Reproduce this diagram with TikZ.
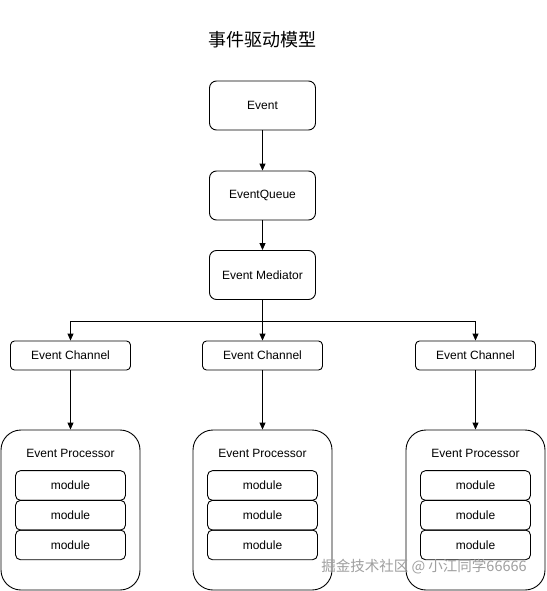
\documentclass[tikz,border=0pt]{standalone}
\usepackage{fontspec}
\setmainfont{Liberation Sans}
\newfontfamily\cjk{Noto Sans CJK SC}
\usetikzlibrary{arrows.meta}

\tikzset{
  box/.style={draw, rounded corners=7pt, inner sep=0pt, minimum width=106pt, minimum height=49pt, font=\fontsize{12}{14}\selectfont},
  chan/.style={draw, rounded corners=4pt, inner sep=0pt, minimum width=120pt, minimum height=29pt, font=\fontsize{12}{14}\selectfont},
  proc/.style={draw, rounded corners=20pt, inner sep=0pt, minimum width=139pt, minimum height=160pt},
  mod/.style={draw, rounded corners=5pt, inner sep=0pt, minimum width=110pt, minimum height=29.7pt, font=\fontsize{12}{14}\selectfont},
  arr/.style={-{Triangle[length=7pt,width=6pt]}}
}

\begin{document}
\begin{tikzpicture}[x=1pt,y=-1pt,line width=0.9pt]
    \useasboundingbox (0,0) rectangle (546,591);

    \node[font=\cjk\fontsize{18}{20}\selectfont] (title) at (262,40) {事件驱动模型};

    \node[box] (event) at (262.5,105.5) {Event};
    \node[box] (queue) at (262.5,195.5) {EventQueue};
    \node[box] (mediator) at (262.5,275) {Event Mediator};
    \coordinate (split) at (262.5,321);

    \node[chan] (chanA) at (70.5,355.5) {Event Channel};
    \node[chan] (chanB) at (262.5,355.5) {Event Channel};
    \node[chan] (chanC) at (475.5,355.5) {Event Channel};

    \node[proc] (procA) at (70.5,510) {};
    \node[proc] (procB) at (262.5,510) {};
    \node[proc] (procC) at (475.5,510) {};

    \node[font=\fontsize{12}{14}\selectfont] (labelA) at (70.5,453) {Event Processor};
    \node[font=\fontsize{12}{14}\selectfont] (labelB) at (262.5,453) {Event Processor};
    \node[font=\fontsize{12}{14}\selectfont] (labelC) at (475.5,453) {Event Processor};

    \node[mod] (modA1) at (70.5,485.5) {module};
    \node[mod] (modA2) at (70.5,515.2) {module};
    \node[mod] (modA3) at (70.5,544.9) {module};
    \node[mod] (modB1) at (262.5,485.5) {module};
    \node[mod] (modB2) at (262.5,515.2) {module};
    \node[mod] (modB3) at (262.5,544.9) {module};
    \node[mod] (modC1) at (475.5,485.5) {module};
    \node[mod] (modC2) at (475.5,515.2) {module};
    \node[mod] (modC3) at (475.5,544.9) {module};

    \draw[arr] (event) -- (queue);
    \draw[arr] (queue) -- (mediator);
    \draw (mediator) -- (split);
    \draw[arr] (split) -| (chanA);
    \draw[arr] (split) -- (chanB);
    \draw[arr] (split) -| (chanC);
    \draw[arr] (chanA) -- (procA);
    \draw[arr] (chanB) -- (procB);
    \draw[arr] (chanC) -- (procC);

    \node[font=\cjk\fontsize{14.5}{16}\selectfont, text=gray!75] (mark) at (424,567) {掘金技术社区 @ 小江同学66666};
\end{tikzpicture}
\end{document}
